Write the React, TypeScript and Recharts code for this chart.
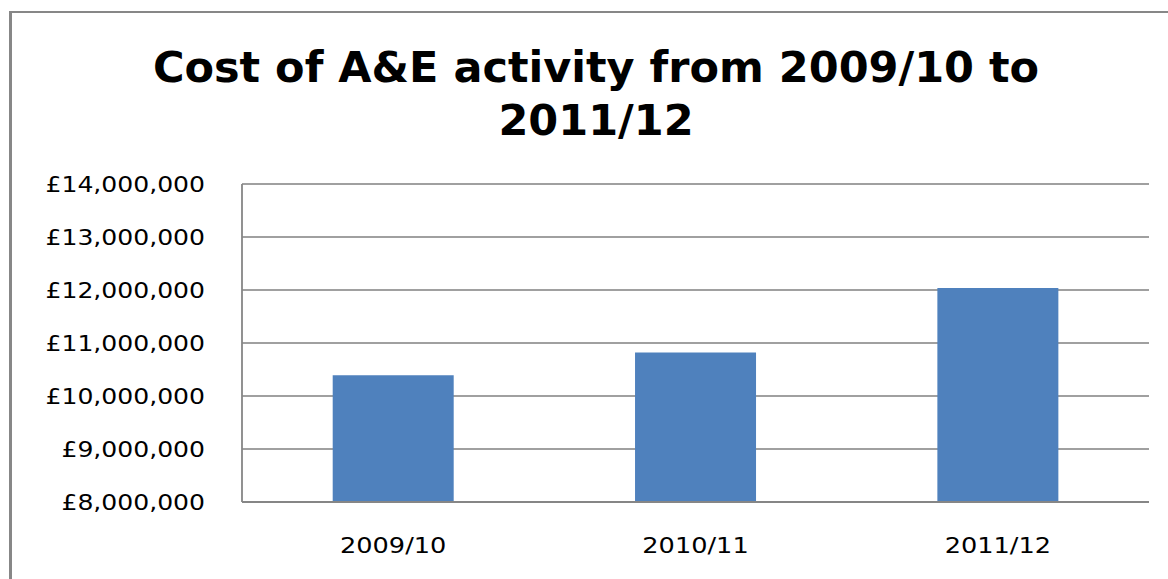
import React from "react";
import { BarChart, Bar, XAxis, YAxis, CartesianGrid } from "recharts";

const categories = ["2009/10", "2010/11", "2011/12"];
const costValues = [10390000, 10820000, 12040000];
const yTicks = [8000000, 9000000, 10000000, 11000000, 12000000, 13000000, 14000000];
const titleLines = ["Cost of A&E activity from 2009/10 to", "2011/12"];

const data = categories.map((c, i) => ({ year: c, cost: costValues[i] }));

const fmt = (v: number) => "£" + v.toLocaleString("en-GB");

const YTick = (props: any) => {
  const { x, y, payload } = props;
  return (
    <g transform={`translate(${x - 29},${y}) scale(1.14,1)`}>
      <text textAnchor="end" dy="0.36em" fontFamily="DejaVu Sans" fontSize={22} fill="#000">
        {fmt(payload.value)}
      </text>
    </g>
  );
};

const XTick = (props: any) => {
  const { x, payload } = props;
  return (
    <g transform={`translate(${x},553) scale(1.22,1)`}>
      <text textAnchor="middle" fontFamily="DejaVu Sans" fontSize={21} fill="#000">
        {payload.value}
      </text>
    </g>
  );
};

export default function App() {
  return (
    <div style={{ position: "absolute", left: 0, top: 0, width: 1168, height: 579, overflow: "hidden", background: "#fff" }}>
      <div
        style={{
          position: "absolute",
          left: 9,
          top: 11,
          width: 1300,
          height: 700,
          borderLeft: "3px solid #878787",
          borderTop: "2px solid #878787",
        }}
      />
      <div
        style={{
          position: "absolute",
          left: 100,
          top: 41,
          width: 992,
          textAlign: "center",
          fontFamily: "DejaVu Sans",
          fontWeight: "bold",
          fontSize: 43,
          lineHeight: "53px",
          color: "#000",
          whiteSpace: "nowrap",
        }}
      >
        {titleLines.map((t) => (
          <div key={t}>{t}</div>
        ))}
      </div>
      <div style={{ position: "absolute", left: 0, top: 0 }}>
        <BarChart
          width={1168}
          height={579}
          data={data}
          margin={{ top: 184, left: 10, right: 19, bottom: 37 }}
          barCategoryGap="30%"
        >
          <CartesianGrid vertical={false} stroke="#808080" strokeWidth={1.3} />
          <XAxis
            dataKey="year"
            height={40}
            axisLine={{ stroke: "#868686", strokeWidth: 2 }}
            tickLine={false}
            tick={<XTick />}
            interval={0}
          />
          <YAxis
            width={232}
            domain={[8000000, 14000000]}
            ticks={yTicks}
            allowDataOverflow
            axisLine={{ stroke: "#868686", strokeWidth: 1.8 }}
            tickLine={false}
            tick={<YTick />}
            interval={0}
          />
          <Bar dataKey="cost" fill="#4F81BD" isAnimationActive={false} />
        </BarChart>
      </div>
    </div>
  );
}
